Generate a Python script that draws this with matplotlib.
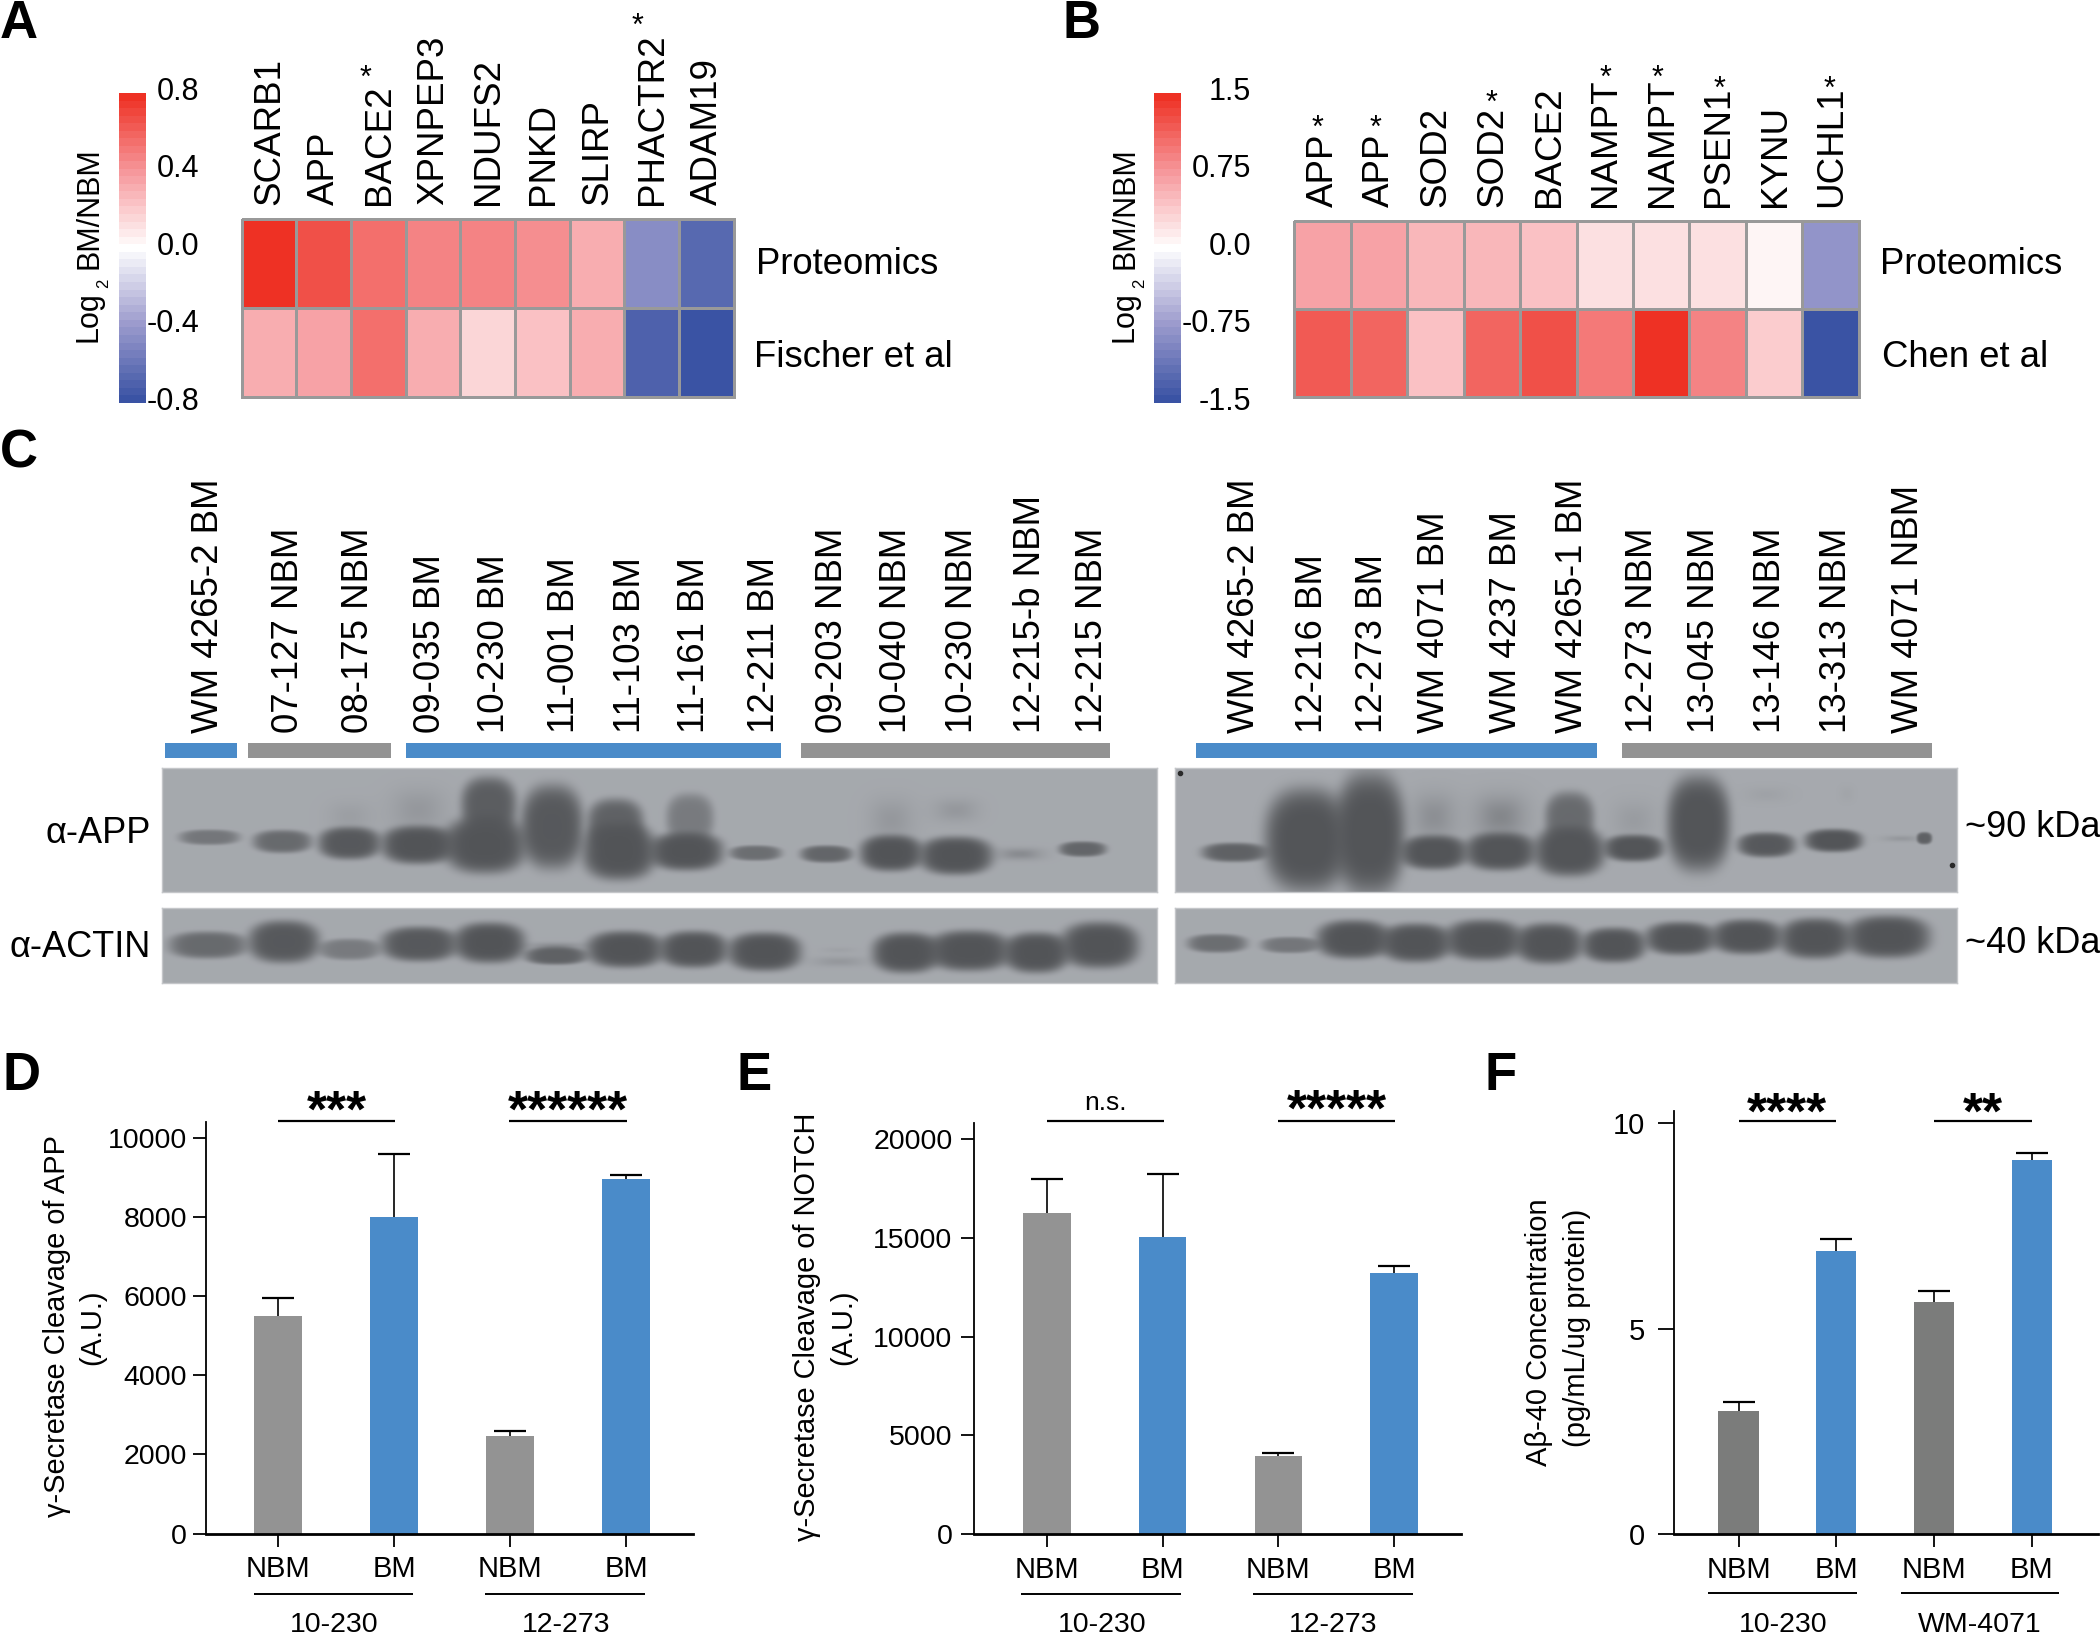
import numpy as np
import matplotlib
matplotlib.use("Agg")
import matplotlib.pyplot as plt
from matplotlib.cm import ScalarMappable
from matplotlib.colors import LinearSegmentedColormap, Normalize

plt.rcParams['font.family'] = ['Liberation Sans', 'DejaVu Sans']

# heatmaps
genes_a = ['SCARB1', 'APP', 'BACE2', 'XPNPEP3', 'NDUFS2', 'PNKD', 'SLIRP', 'PHACTR2', 'ADAM19']
prot_a = [0.80, 0.66, 0.54, 0.47, 0.47, 0.44, 0.33, -0.46, -0.67]
fischer_a = [0.31, 0.36, 0.56, 0.31, 0.17, 0.225, 0.33, -0.70, -0.79]
genes_b = ['APP', 'APP', 'SOD2', 'SOD2', 'BACE2', 'NAMPT', 'NAMPT', 'PSEN1', 'KYNU', 'UCHL1']
prot_b = [0.67, 0.69, 0.54, 0.52, 0.42, 0.255, 0.245, 0.255, 0.07, -0.77]
chen_b = [1.165, 1.13, 0.42, 1.10, 1.245, 0.98, 1.5, 0.88, 0.34, -1.5]
ticks_a = [0.8, 0.4, 0.0, -0.4, -0.8]
ticks_b = [1.5, 0.75, 0.0, -0.75, -1.5]
tick_labels_a = ['0.8', '0.4', '0.0', '-0.4', '-0.8']
tick_labels_b = ['1.5', '0.75', '0.0', '-0.75', '-1.5']

# western blot lanes
lanes_left = ['WM 4265-2 BM', '07-127 NBM', '08-175 NBM', '09-035 BM', '10-230 BM', '11-001 BM', '11-103 BM',
              '11-161 BM', '12-211 BM', '09-203 NBM', '10-040 NBM', '10-230 NBM', '12-215-b NBM', '12-215 NBM']
lanes_right = ['WM 4265-2 BM', '12-216 BM', '12-273 BM', 'WM 4071 BM', 'WM 4237 BM', 'WM 4265-1 BM',
               '12-273 NBM', '13-045 NBM', '13-146 NBM', '13-313 NBM', 'WM 4071 NBM']

app_left = [(280, 70, 352, 40, .6), (378, 68, 365, 60, .75), (468, 72, 370, 85, .95), (468, 50, 290, 80, .12),
            (560, 85, 375, 100, 1), (560, 60, 270, 110, .2), (650, 95, 375, 150, 1), (655, 64, 255, 150, .9),
            (740, 72, 320, 220, .95), (830, 85, 395, 150, 1), (825, 65, 310, 130, .85), (920, 85, 395, 100, 1),
            (925, 55, 295, 130, .55), (1013, 60, 400, 40, .7), (1108, 60, 403, 45, .8), (1195, 72, 400, 95, 1),
            (1195, 50, 300, 110, .2), (1282, 85, 408, 100, 1), (1282, 50, 270, 60, .2), (1368, 50, 403, 30, .35),
            (1452, 55, 388, 40, .8)]
actin_left = [(278, 90, 675, 70, .75), (380, 82, 665, 110, .95), (468, 70, 688, 55, .55), (562, 88, 672, 90, .95),
              (656, 82, 668, 105, 1), (745, 72, 708, 45, .85), (745, 60, 680, 20, .4), (838, 88, 688, 95, 1),
              (930, 78, 688, 95, 1), (1025, 85, 695, 100, 1), (1125, 60, 725, 25, .2), (1125, 40, 690, 15, .08),
              (1215, 78, 698, 105, 1), (1300, 95, 692, 105, 1), (1390, 75, 698, 105, 1), (1475, 90, 675, 120, 1)]
app_right = [(138, 92, 398, 50, .85), (258, 120, 360, 270, 1), (362, 100, 340, 320, 1), (468, 95, 398, 90, 1),
             (468, 60, 290, 120, .3), (578, 100, 395, 100, 1), (578, 70, 290, 110, .4), (692, 100, 395, 130, 1),
             (692, 70, 295, 140, .75), (798, 85, 385, 70, 1), (798, 60, 300, 100, .15), (905, 90, 310, 250, 1),
             (1017, 82, 375, 65, .95), (1017, 60, 222, 40, .08), (1128, 82, 362, 60, 1), (1150, 20, 220, 40, .05),
             (1278, 22, 355, 32, .85), (1240, 50, 356, 15, .2)]
actin_right = [(110, 85, 670, 48, .7), (230, 82, 675, 42, .6), (335, 105, 658, 100, 1), (438, 100, 668, 100, 1),
               (550, 110, 660, 105, 1), (658, 95, 670, 105, 1), (765, 90, 675, 90, 1), (875, 100, 655, 85, 1),
               (985, 100, 650, 90, 1), (1098, 100, 655, 105, 1), (1218, 120, 650, 110, 1)]

# bar charts
bar_cats = ['NBM', 'BM', 'NBM', 'BM']
vals_d = [5500, 8000, 2470, 8950]
errs_d = [450, 1600, 120, 100]
vals_e = [16260, 15040, 3950, 13200]
errs_e = [1690, 3160, 150, 380]
vals_f = [3.01, 6.88, 5.64, 9.11]
errs_f = [0.21, 0.30, 0.28, 0.17]

W, H = 2100, 1634
fig = plt.figure(figsize=(W / 100, H / 100), dpi=100)

# layer in image pixels for text and brackets
ov = fig.add_axes([0, 0, 1, 1], zorder=5)
ov.set_xlim(0, W)
ov.set_ylim(H, 0)
ov.axis('off')
ov.patch.set_alpha(0)


def px_axes(x0, y0, x1, y1):
    return fig.add_axes([x0 / W, 1 - y1 / H, (x1 - x0) / W, (y1 - y0) / H])


def star(x, yc, txt='*', size=22, weight='normal'):
    # asterisks sit high in the line so place them from the baseline
    ov.text(x, yc + 0.45 * size * 100 / 72, txt, fontsize=size, fontweight=weight, ha='center', va='baseline')


cmap = LinearSegmentedColormap.from_list('rwb', ['#3A53A4', '#9C9BCD', '#FFFFFF', '#F6989C', '#EE3124'], N=41)


def heatmap(rect, rows, vmax, genes, label_bottom, row_names, row_x):
    ax = px_axes(*rect)
    ax.pcolormesh(np.array(rows), cmap=cmap, norm=Normalize(-vmax, vmax), edgecolors='#999999',
                  linewidth=1.8, clip_on=False)
    ax.set_ylim(2, 0)
    ax.axis('off')
    w = (rect[2] - rect[0]) / len(genes)
    for i, g in enumerate(genes):
        ov.text(rect[0] + (i + .5) * w + 1, label_bottom, g, rotation=90, fontsize=26.5, ha='center', va='bottom')
    for name, x, y in zip(row_names, row_x, [264, 357]):
        ov.text(x, y, name, fontsize=26.3, ha='left', va='center')


def colorbar(rect, vmax, ticks, labels, label_right, log_x):
    cax = px_axes(*rect)
    cb = fig.colorbar(ScalarMappable(Normalize(-vmax, vmax), cmap), cax=cax)
    cb.outline.set_visible(False)
    cb.set_ticks([])
    pad = (label_right - rect[2]) * 0.72
    for t, lab in zip(ticks, labels):
        cax.annotate(lab, xy=(1, t), xycoords=cax.get_yaxis_transform(), xytext=(pad, 1),
                     textcoords='offset points', fontsize=22, ha='right', va='center')
    ov.text(log_x, 342, 'Log', rotation=90, fontsize=22, ha='center', va='bottom')
    ov.text(log_x + 15, 283, '2', rotation=90, fontsize=12, ha='center', va='center')
    ov.text(log_x, 269, 'BM/NBM', rotation=90, fontsize=22, ha='center', va='bottom')


heatmap((241.5, 218.5, 733.5, 396.5), [prot_a, fischer_a], 0.8, genes_a, 205, ['Proteomics', 'Fischer et al'], [756, 754])
colorbar((119, 93, 146, 403), 0.8, ticks_a, tick_labels_a, 199, 89)
star(365, 73)
star(638, 21)

heatmap((1294, 220.5, 1859, 396.5), [prot_b, chen_b], 1.5, genes_b, 207, ['Proteomics', 'Chen et al'], [1880, 1882])
colorbar((1154, 93, 1181, 403), 1.5, ticks_b, tick_labels_b, 1251, 1125)
for sx, sy in [(1318, 123), (1375, 123), (1492, 98), (1605, 73), (1658, 73), (1720, 84), (1830, 84)]:
    star(sx, sy)

# blots
blot_cmap = LinearSegmentedColormap.from_list('blot', ['#A6A9AE', '#535558'])


def blot(rect, xr, yr, bands):
    ax = px_axes(*rect)
    nx, ny = int(rect[2] - rect[0]), int(rect[3] - rect[1])
    xx, yy = np.meshgrid(np.linspace(xr[0], xr[1], nx), np.linspace(yr[0], yr[1], ny))
    keep = np.ones_like(xx)
    for xc, bw, yc, bh, s in bands:
        p = 2 if s < .5 else 6
        r = (np.abs((xx - xc) / (bw * .58)) ** 2.5 + np.abs((yy - yc) / (bh * .58)) ** 2.5) ** (1 / 2.5)
        keep *= 1 - s * np.exp(-r ** p)
    ax.imshow(1 - keep, cmap=blot_cmap, vmin=0, vmax=1, extent=[xr[0], xr[1], yr[1], yr[0]], aspect='auto')
    ax.set_xticks([])
    ax.set_yticks([])
    for sp in ax.spines.values():
        sp.set_color('#c4c6c9')
        sp.set_linewidth(1)
    return ax


blot((162, 768, 1157, 892), (217, 1551), (143, 517), app_left)
blot((162, 908, 1157, 983), (217, 1551), (565, 788), actin_left)
ax_r = blot((1175, 768, 1957, 892), (41, 1331), (143, 517), app_right)
ax_r.plot([50, 1322], [157, 437], ls='none', marker='o', ms=3, color='#2a2a2a')
blot((1175, 908, 1957, 983), (41, 1331), (565, 788), actin_right)

xs_left = [205, 284, 355, 427, 491, 560, 627, 691, 761, 828, 893, 959, 1027, 1089]
xs_right = [1241, 1308, 1368, 1431, 1502, 1569, 1639, 1701, 1767, 1832, 1904]
for x, lab in zip(xs_left + xs_right, lanes_left + lanes_right):
    ov.text(x + 4, 733, lab, rotation=90, fontsize=26.4, ha='center', va='bottom')

for x0, x1, c in [(165, 237, '#4A8BC9'), (248, 391, '#939393'), (406, 781, '#4A8BC9'), (801, 1110, '#939393'),
                  (1196, 1597, '#4A8BC9'), (1622, 1932, '#939393')]:
    ov.fill_between([x0, x1], 743, 758, color=c, lw=0)

ov.text(151, 833, 'α-APP', fontsize=26, ha='right', va='center')
ov.text(151, 947, 'α-ACTIN', fontsize=26, ha='right', va='center')
ov.text(1965, 827, '~90 kDa', fontsize=26, ha='left', va='center')
ov.text(1965, 943, '~40 kDa', fontsize=26, ha='left', va='center')

# bars
BLUE = '#4A8BC9'


def bars(rect, xlim, ymax, vals, errs, yticks, grey, ylen=9.5, ypad=4, ysize=20.5):
    ax = px_axes(*rect)
    x = np.arange(4)
    ax.bar(x, vals, width=.41, color=[grey, BLUE, grey, BLUE])
    eb = ax.errorbar(x, vals, yerr=[np.zeros(4), errs], fmt='none', ecolor='black', elinewidth=1.2, capsize=11.5, capthick=1.6)
    eb.lines[1][0].set_visible(False)
    ax.set_xlim(*xlim)
    ax.set_ylim(0, ymax)
    ax.set_xticks(x, bar_cats)
    ax.set_yticks(yticks)
    ax.tick_params(axis='x', length=9.5, width=1.3, labelsize=21, pad=6)
    ax.tick_params(axis='y', length=ylen, width=1.3, labelsize=ysize, pad=ypad)
    ax.patch.set_alpha(0)
    for s in ['top', 'right']:
        ax.spines[s].set_visible(False)
    ax.spines['left'].set_linewidth(1.3)
    ax.spines['bottom'].set_linewidth(2)
    return ax


bars((205.6, 1121.8, 693, 1533.6), (-.624, 3.578), 10401, vals_d, errs_d, [0, 2000, 4000, 6000, 8000, 10000], '#939393')
bars((974, 1122.6, 1460.6, 1534.3), (-.631, 3.575), 20825, vals_e, errs_e, [0, 5000, 10000, 15000, 20000], '#939393', ypad=6)
bars((1673.6, 1110.8, 2098, 1534.3), (-.664, 3.676), 10.3, vals_f, errs_f, [0, 5, 10], '#7B7C7B', ylen=11.5, ypad=9, ysize=21)


def hline(x0, x1, y, lw=1.6):
    ov.plot([x0, x1], [y, y], color='black', lw=lw, solid_capstyle='butt')


for x0, x1, y in [(254, 413, 1594), (485, 645, 1594), (1021, 1181, 1594), (1253, 1413, 1594), (1708, 1857, 1593), (1901, 2059, 1593)]:
    hline(x0, x1, y, lw=1.4)
for x, lab in [(334, '10-230'), (566, '12-273'), (1102, '10-230'), (1333, '12-273'), (1783, '10-230'), (1980, 'WM-4071')]:
    ov.text(x, 1632, lab, fontsize=20.5, ha='center', va='baseline')

for x0, x1 in [(278, 395), (509, 627), (1047, 1164), (1278, 1395), (1739, 1836), (1934, 2032)]:
    hline(x0, x1, 1120.5)
for x, y, txt in [(337, 1104, '***'), (568, 1104, '******'), (1337, 1102.5, '*****'), (1787, 1106, '****'), (1983, 1106, '**')]:
    star(x, y, txt, size=37, weight='bold')
ov.text(1105.5, 1103.5, 'n.s.', fontsize=19, ha='center', va='center')

ov.text(57, 1326, 'γ-Secretase Cleavage of APP', rotation=90, fontsize=20.9, ha='center', va='center')
ov.text(92, 1327, '(A.U.)', rotation=90, fontsize=20.9, ha='center', va='center')
ov.text(807, 1327, 'γ-Secretase Cleavage of NOTCH', rotation=90, fontsize=20.9, ha='center', va='center')
ov.text(843, 1327, '(A.U.)', rotation=90, fontsize=20.9, ha='center', va='center')
ov.text(1539, 1332, 'Aβ-40 Concentration', rotation=90, fontsize=21, ha='center', va='center')
ov.text(1577, 1328, '(pg/mL/ug protein)', rotation=90, fontsize=21, ha='center', va='center')

for lab, x, y in [('A', 0, 38), ('B', 1063, 38), ('C', 0, 467), ('D', 2, 1090), ('E', 737, 1090), ('F', 1484, 1090)]:
    ov.text(x, y, lab, fontsize=38, fontweight='bold', ha='left', va='baseline')

fig.savefig('out.png', dpi=100)
